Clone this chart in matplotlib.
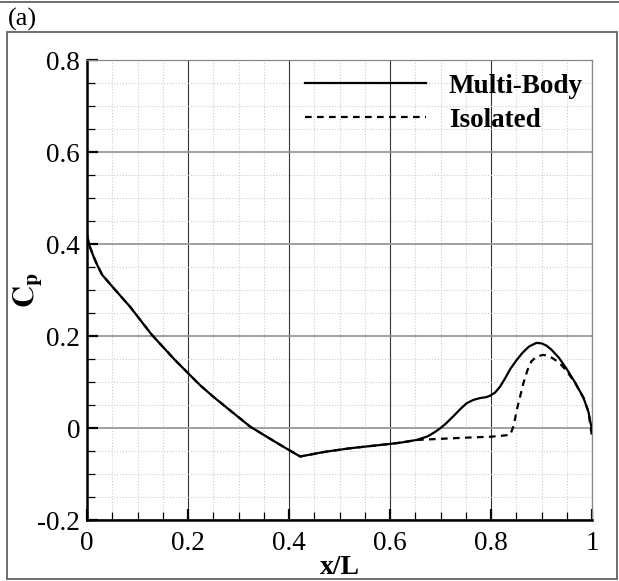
import matplotlib
matplotlib.use('Agg')
import matplotlib.pyplot as plt
from matplotlib.ticker import MultipleLocator
from matplotlib.lines import Line2D

plt.rcParams['font.family'] = 'Liberation Serif'
plt.rcParams['mathtext.fontset'] = 'stix'

# Multi-body pressure coefficient along the body
x_multi = [0, 0.003, 0.006, 0.0125, 0.02, 0.03, 0.052, 0.085, 0.128, 0.174, 0.224, 0.25,
           0.323, 0.38, 0.422, 0.47, 0.521, 0.58, 0.62, 0.653, 0.675, 0.69, 0.699, 0.71,
           0.725, 0.74, 0.752, 0.765, 0.778, 0.79, 0.798, 0.808, 0.818, 0.828, 0.838,
           0.851, 0.862, 0.875, 0.89, 0.9, 0.91, 0.92, 0.935, 0.95, 0.967, 0.983, 0.993, 1.0]
cp_multi = [0.42, 0.405, 0.393, 0.374, 0.355, 0.333, 0.305, 0.264, 0.203, 0.148, 0.093, 0.068,
            0.003, -0.035, -0.062, -0.052, -0.044, -0.037, -0.032, -0.026, -0.018, -0.008,
            -0.001, 0.009, 0.025, 0.042, 0.054, 0.061, 0.065, 0.067, 0.070, 0.077, 0.090,
            0.108, 0.128, 0.148, 0.163, 0.177, 0.185, 0.184, 0.179, 0.170, 0.152, 0.128,
            0.098, 0.066, 0.035, -0.005]

# Isolated body
x_iso = [0, 0.003, 0.006, 0.0125, 0.02, 0.03, 0.052, 0.085, 0.128, 0.174, 0.224, 0.25,
         0.323, 0.38, 0.422, 0.47, 0.521, 0.58, 0.62, 0.653, 0.672, 0.75, 0.80, 0.838,
         0.845, 0.851, 0.858, 0.864, 0.872, 0.88, 0.89, 0.903, 0.913, 0.923, 0.935, 0.95,
         0.967, 0.983, 0.993, 1.0]
cp_iso = [0.42, 0.405, 0.393, 0.374, 0.355, 0.333, 0.305, 0.264, 0.203, 0.148, 0.093, 0.068,
          0.003, -0.035, -0.062, -0.052, -0.044, -0.037, -0.032, -0.026, -0.025, -0.021,
          -0.019, -0.015, 0.005, 0.039, 0.07, 0.097, 0.125, 0.145, 0.155, 0.159, 0.157,
          0.151, 0.142, 0.124, 0.097, 0.066, 0.035, -0.02]

W, H = 619, 581
fig = plt.figure(figsize=(W / 100, H / 100), dpi=100)

# panel frame
fig.add_artist(Line2D([0, 1], [1 - 1.5 / H, 1 - 1.5 / H], color='#555555', lw=1.2))
fig.add_artist(plt.Rectangle((7 / W, 2 / H), (617 - 7) / W, (549 - 2) / H, fill=False,
                             edgecolor='#555555', lw=1.2, transform=fig.transFigure))
fig.text(8 / W, 1 - 19 / H, '(a)', fontsize=19, va='center', ha='left')

ax = fig.add_axes([87 / W, (H - 520) / H, 505 / W, 460 / H])

ax.plot(x_multi, cp_multi, color='black', lw=1.6, label='Multi-Body', zorder=5,
        solid_joinstyle='round')
ax.plot(x_iso, cp_iso, color='black', lw=1.6, dashes=(3, 2.4), label='Isolated', zorder=4)

ax.set_xlim(0, 1)
ax.set_ylim(-0.2, 0.8)
ax.xaxis.set_minor_locator(MultipleLocator(0.05))
ax.yaxis.set_minor_locator(MultipleLocator(0.05))
ax.set_xticks([0, 0.2, 0.4, 0.6, 0.8, 1.0], ['0', '0.2', '0.4', '0.6', '0.8', '1'])
ax.set_yticks([-0.2, 0, 0.2, 0.4, 0.6, 0.8], ['-0.2', '0', '0.2', '0.4', '0.6', '0.8'])

ax.grid(which='minor', color='#cccccc', ls=':', lw=0.8)
ax.grid(which='major', axis='x', color='#333333', ls='-', lw=0.8)
ax.grid(which='major', axis='y', color='#999999', ls='-', lw=1.3)
ax.set_axisbelow(True)

ax.tick_params(which='both', direction='in', top=False, right=False, labelsize=19.5)
ax.tick_params(which='major', length=8, width=1.6)
ax.tick_params(which='minor', length=5.5, width=0.9)
ax.tick_params(axis='y', pad=5)
ax.tick_params(axis='x', pad=8)

for s in ['left', 'bottom']:
    ax.spines[s].set_linewidth(1.8)
for s in ['top', 'right']:
    ax.spines[s].set_linewidth(0.9)
    ax.spines[s].set_color('#888888')

ax.set_xlabel('x/L', fontsize=20, fontweight='bold', va='center')
ax.xaxis.set_label_coords(0.5, -(567 - 520) / 460)
ax.set_ylabel(r'$\mathbf{C}_\mathbf{p}$', fontsize=22, va='center')
ax.yaxis.set_label_coords(-(87 - 28) / 505, 0.5)

ax.legend(loc='upper right', bbox_to_anchor=(1.03, 1.0235), frameon=False,
          prop={'size': 19.5, 'weight': 'bold'}, handlelength=4.45, handletextpad=0.85,
          labelspacing=0.33)

fig.savefig('out.png', dpi=100)
